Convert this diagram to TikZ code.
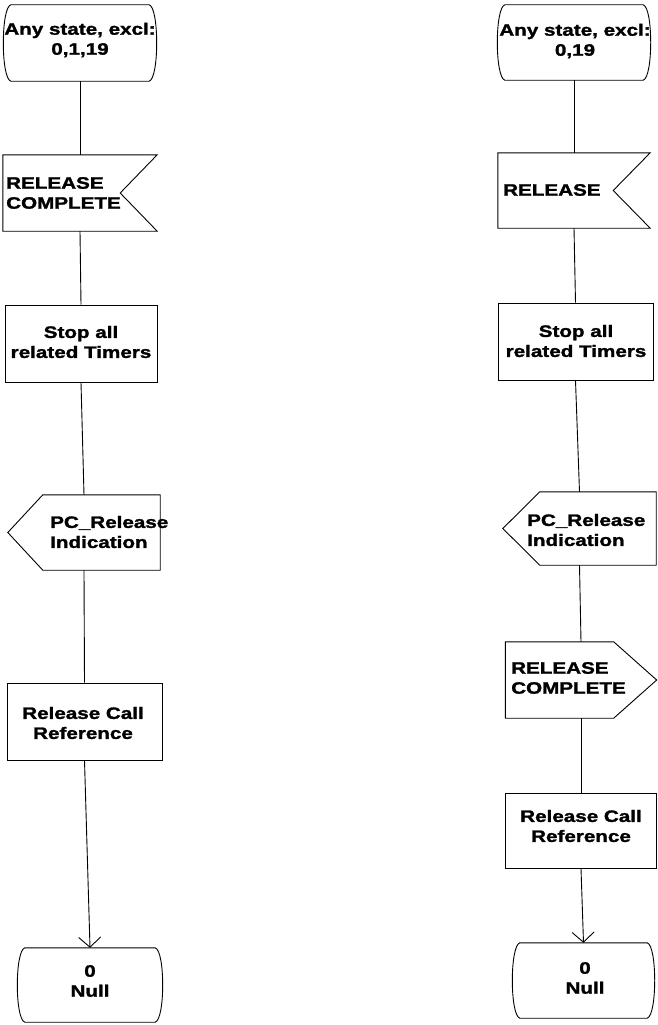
\documentclass[tikz,border=0pt]{standalone}
\usepackage{fontspec}
\setmainfont{Liberation Sans}[FakeStretch=1.25, BoldFeatures={FakeBold=1.6}]
\usetikzlibrary{calc,arrows.meta}
\tikzset{
  shp/.style={rectangle, inner sep=0pt, minimum width=#1},
  box/.style={draw, line width=0.9pt},
  lbl/.style={inner sep=0pt, align=center, font=\fontsize{16.5}{20}\selectfont\bfseries},
  lbll/.style={lbl, align=left, anchor=west},
  con/.style={line width=0.9pt},
  arr/.style={con, -{Straight Barb[length=10pt,width=22pt,line width=0.9pt]}},
}
\newcommand{\statebox}[1]{%
  \draw[box] ($(#1.north west)+(6,0)$) -- ($(#1.north east)+(-6,0)$)
    .. controls ($(#1.north east)+(4,3)$) and ($(#1.south east)+(4,-3)$) .. ($(#1.south east)+(-6,0)$)
    -- ($(#1.south west)+(6,0)$)
    .. controls ($(#1.south west)+(-4,-3)$) and ($(#1.north west)+(-4,3)$) .. cycle;}
\newcommand{\recvbox}[2]{%
  \draw[box] (#1.north west) -- (#1.north east) -- ($(#1.east)+(-#2,0)$) -- (#1.south east) -- (#1.south west) -- cycle;}
\newcommand{\sendleft}[2]{%
  \draw[box] (#1.west) -- ($(#1.north west)+(#2,0)$) -- (#1.north east) -- (#1.south east) -- ($(#1.south west)+(#2,0)$) -- cycle;}
\newcommand{\sendright}[2]{%
  \draw[box] (#1.north west) -- ($(#1.north east)+(-#2,0)$) -- (#1.east) -- ($(#1.south east)+(-#2,0)$) -- (#1.south west) -- cycle;}
\begin{document}
\begin{tikzpicture}[x=1pt,y=-1pt]
\useasboundingbox (0,0) rectangle (657,1025);
% ---------------- left column ----------------
\node[shp=150, minimum height=76] (LS) at (80,43) {};
\node[shp=154, minimum height=76] (LR) at (80,193) {};
\node[shp=152, minimum height=77, box] (LT) at (81,343.5) {};
\node[shp=152, minimum height=75] (LP) at (84,532.5) {};
\node[shp=155, minimum height=77, box] (LC) at (84.5,721.5) {};
\node[shp=142, minimum height=74] (LN) at (90,985) {};
\statebox{LS}
\recvbox{LR}{37}
\sendleft{LP}{35}
\statebox{LN}
\node[lbl] (LSt) at (80,40) {Any state, excl:\\0,1,19};
\node[lbll] (LRt) at (6,193) {RELEASE\\COMPLETE};
\node[lbl] (LTt) at (81,342) {Stop all\\related Timers};
\node[lbll] (LPt) at (50,532) {PC\_Release\\Indication};
\node[lbl] (LCt) at (83,723) {Release Call\\Reference};
\node[lbl] (LNt) at (90,981) {0\\Null};
\draw[con] (LS.south) -- (LR.north);
\draw[con] (LR.south) -- (LT.north);
\draw[con] (LT.south) -- (LP.north);
\draw[con] (LP.south) -- (LC.north);
\draw[arr] (LC.south) -- (LN.north);
% ---------------- right column ----------------
\node[shp=150, minimum height=75] (RS) at (574,42.5) {};
\node[shp=152, minimum height=75] (RR) at (574,190.5) {};
\node[shp=155, minimum height=77, box] (RT) at (575.5,341.5) {};
\node[shp=153, minimum height=73] (RP) at (579.5,528.5) {};
\node[shp=151, minimum height=76] (RC) at (581,680) {};
\node[shp=151, minimum height=75, box] (RT2) at (581,830.5) {};
\node[shp=139, minimum height=75] (RN) at (583.5,980.5) {};
\statebox{RS}
\recvbox{RR}{37}
\sendleft{RP}{37}
\sendright{RC}{43}
\statebox{RN}
\node[lbl] (RSt) at (575,41) {Any state, excl:\\0,19};
\node[lbll] (RRt) at (503,190) {RELEASE};
\node[lbl] (RTt) at (576,341) {Stop all\\related Timers};
\node[lbll] (RPt) at (527,530) {PC\_Release\\Indication};
\node[lbll] (RCt) at (511,678) {RELEASE\\COMPLETE};
\node[lbl] (RT2t) at (581,826) {Release Call\\Reference};
\node[lbl] (RNt) at (585,978) {0\\Null};
\draw[con] (RS.south) -- (RR.north);
\draw[con] (RR.south) -- (RT.north);
\draw[con] (RT.south) -- (RP.north);
\draw[con] (RP.south) -- (RC.north);
\draw[con] (RC.south) -- (RT2.north);
\draw[arr] (RT2.south) -- (RN.north);
\end{tikzpicture}
\end{document}
